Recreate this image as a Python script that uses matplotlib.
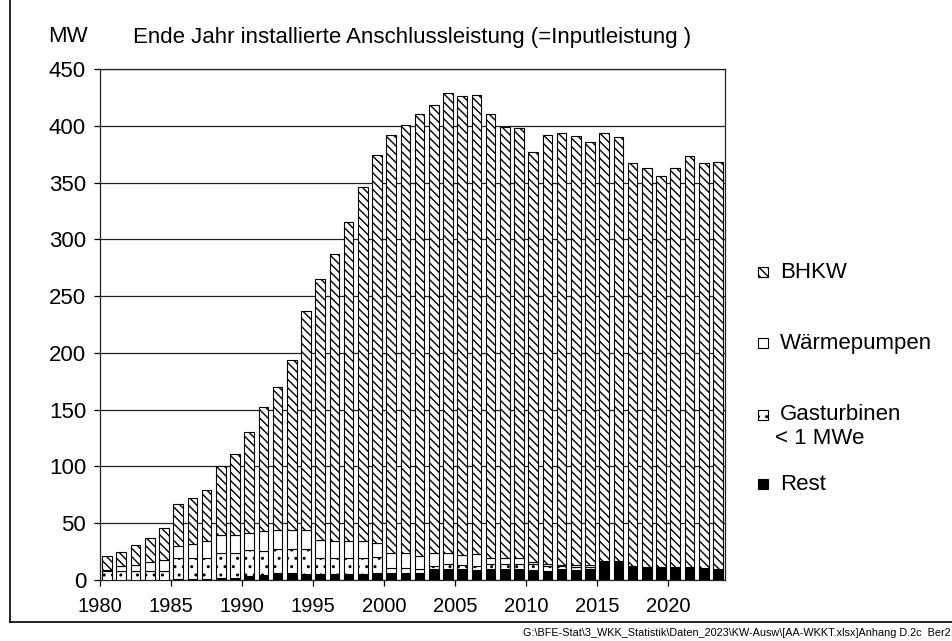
import matplotlib
matplotlib.use('Agg')
import matplotlib.pyplot as plt
from matplotlib.patches import Rectangle
from matplotlib.lines import Line2D
import numpy as np

plt.rcParams['font.family'] = ['Liberation Sans', 'DejaVu Sans']
plt.rcParams['hatch.linewidth'] = 1.0

# Data (MW)
years = list(range(1980, 2024))
rest = [0, 0, 0, 0, 0, 1, 1, 1, 1.5, 2,
        3.5, 4.5, 6, 6, 5.5, 5.5, 5.5, 5.5, 5.5, 6,
        6.5, 6.5, 6.5, 9.5, 9.5, 9.5, 9, 9.5, 9.5, 9.5,
        8.5, 8, 9.5, 9, 9.5, 16, 15, 11, 10, 9.5,
        9.5, 9.5, 9, 8]
gasturbinen = [7.5, 8, 8, 8, 8, 18, 18, 18, 22, 21.5,
               22.5, 21, 21, 21, 21.5, 14, 14, 14, 14, 14,
               4.5, 4.5, 3, 2.5, 5, 3.5, 3.5, 4.5, 4.5, 4.5,
               5.5, 4, 2.5, 2.5, 2, 0.5, 1, 0.7, 0.8, 0.8,
               1, 0.8, 0.6, 0.7]
waermepumpen = [1.5, 4, 5, 8, 9.5, 11, 12.5, 15.5, 16.5, 16.5,
                15, 18, 17, 17, 17, 16, 14.5, 14.5, 14.5, 13,
                13, 12.5, 11.5, 12, 9, 9, 10, 5.5, 5.5, 5.5,
                2, 2, 1.5, 1.5, 1.5, 0.5, 1, 0.6, 0.8, 0.8,
                1, 0.8, 0.6, 0.7]
bhkw = [12, 13, 18, 21, 28.5, 37, 40.5, 44.5, 60, 71,
        89, 108.5, 126, 150, 193, 229.5, 253, 281, 312, 341,
        368, 377.5, 389, 394, 405.5, 404, 404.5, 390.5, 379.5, 378.5,
        361, 378, 380.5, 378, 373, 377, 373, 354.7, 351.4, 344.9,
        351.5, 361.9, 356.8, 358.6]

W, H = 953, 641
fig = plt.figure(figsize=(W / 100, H / 100), dpi=100)
ax = fig.add_axes([100 / W, 1 - 580 / H, 625 / W, 511 / H])

x = np.array(years) + 0.5
bw = 0.68
bottom = np.zeros(len(years))
series = [
    (rest, dict(color='black')),
    (gasturbinen, dict(color='white', hatch='..')),
    (waermepumpen, dict(color='white')),
    (bhkw, dict(color='white', hatch='\\\\\\\\')),
]
for vals, style in series:
    ax.bar(x, vals, bw, bottom=bottom, edgecolor='black', linewidth=0.8,
           zorder=3, **style)
    bottom = bottom + np.array(vals)

ax.set_xlim(1980, 2024)
ax.set_ylim(0, 450)
ax.set_yticks(range(0, 451, 50))
ax.set_xticks(range(1980, 2021, 5))
ax.yaxis.grid(True, color='#222222', linewidth=0.9, zorder=0)
ax.set_axisbelow(True)
ax.tick_params(axis='both', direction='out', length=4, width=0.9)
ax.tick_params(axis='y', labelsize=16, pad=6)
ax.tick_params(axis='x', labelsize=14.5, pad=8)
for s in ax.spines.values():
    s.set_linewidth(0.9)
    s.set_color('#222222')

# titles
fig.text(48 / W, 1 - 37 / H, 'MW', fontsize=16, va='center')
fig.text(133 / W, 1 - 37 / H, 'Ende Jahr installierte Anschlussleistung (=Inputleistung )',
         fontsize=16, va='center')

# legend, placed by hand
legend = [
    ('BHKW', 272, dict(facecolor='white', hatch='\\\\\\\\')),
    ('Wärmepumpen', 343, dict(facecolor='white')),
    ('Gasturbinen', 415, dict(facecolor='white', hatch='..')),
    ('Rest', 484, dict(facecolor='black')),
]
for label, yp, style in legend:
    fig.add_artist(Rectangle((758 / W, 1 - (yp + 5) / H), 10 / W, 10 / H,
                             transform=fig.transFigure, edgecolor='black',
                             linewidth=0.8, **style))
    fig.text(780 / W, 1 - yp / H, label, fontsize=16, va='center')
fig.text(775 / W, 1 - 438 / H, '< 1 MWe', fontsize=16, va='center')

# outer frame (left and bottom)
fig.add_artist(Line2D([10 / W, 10 / W], [1, 1 - 622 / H], color='black', linewidth=1.2,
                      transform=fig.transFigure))
fig.add_artist(Line2D([10 / W, 1], [1 - 622 / H, 1 - 622 / H], color='black', linewidth=1.2,
                      transform=fig.transFigure))

fig.text(951 / W, 1 - 633 / H,
         'G:\\BFE-Stat\\3_WKK_Statistik\\Daten_2023\\KW-Ausw\\[AA-WKKT.xlsx]Anhang D.2c  Ber2',
         fontsize=7.8, va='center', ha='right')

fig.savefig('out.png', dpi=100)
